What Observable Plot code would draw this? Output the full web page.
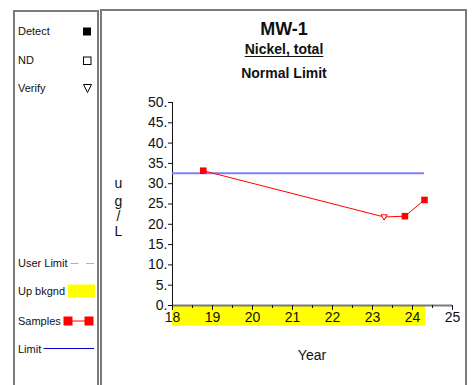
<!DOCTYPE html>
<html>
<head>
<meta charset="utf-8">
<script src="https://cdn.jsdelivr.net/npm/d3@7"></script>
<script src="https://cdn.jsdelivr.net/npm/@observablehq/plot@0.6"></script>
<style>
  html, body { margin: 0; padding: 0; background: #fff; }
  body { font-family: "Liberation Sans", Arial, Helvetica, sans-serif; color: #111; }
  #page { position: relative; width: 474px; height: 385px; overflow: hidden; background: #fff; }
  #page svg { position: absolute; left: 0; top: 0; background: transparent; }
  .panel { position: absolute; box-sizing: border-box; border: 2px solid #7a7a7a; }
  .t { position: absolute; white-space: nowrap; line-height: 1; }
  .center { transform: translate(-50%, -50%); }
  .lbl { font-size: 11px; transform: translateY(-50%); }
  .sym { position: absolute; }
</style>
</head>
<body>
<div id="page"></div>
<script>
// Sampling record for MW-1, nickel (total), in ug/L
const sampleYears  = [18.77, 23.29, 23.81, 24.30];
const sampleValues = [33.2, 21.8, 22.0, 26.0];
const sampleFlags  = ["Detect", "Verify", "Detect", "Detect"];

// Normal limit and the period covered by the upgradient background
const limitValue = 32.6;
const limitYears = [18, 24.3];
const bkgndYears = [18, 24.33];

// Axis ticks
const yTicks = [0, 5, 10, 15, 20, 25, 30, 35, 40, 45, 50];
const xTicks = [18, 19, 20, 21, 22, 23, 24, 25];
const xMinorTicks = [18.5, 19.5, 20.5, 21.5, 22.5, 23.5, 24.5];

const samples = sampleYears.map((year, i) => ({year, value: sampleValues[i], flag: sampleFlags[i]}));

// open downward triangle used for "Verify" results
const triangleDown = {
  draw(context, size) {
    const a = Math.sqrt(size / Math.PI) * 0.85;
    context.moveTo(-a, -a * 0.7);
    context.lineTo(a, -a * 0.7);
    context.lineTo(0, a * 1.0);
    context.closePath();
  }
};

const chart = Plot.plot({
  width: 474,
  height: 385,
  marginLeft: 172,
  marginRight: 22,
  marginTop: 102,
  marginBottom: 80,
  style: {fontFamily: "'Liberation Sans', Arial, sans-serif", fontSize: "14px", color: "#111", background: "transparent"},
  x: {domain: [18, 25]},
  y: {domain: [0, 50]},
  marks: [
    // upgradient background band under the time axis
    Plot.ruleY([0], {x1: bkgndYears[0], x2: bkgndYears[1], stroke: "#ffff00", strokeWidth: 20, dy: 10}),
    Plot.ruleY([0], {stroke: "#7a7a7a", strokeWidth: 2}),
    Plot.axisX({ticks: xMinorTicks, tickSize: 3, tickFormat: () => "", label: null, stroke: "#111"}),
    Plot.axisX({ticks: xTicks, tickSize: 5, tickPadding: 2, tickFormat: d => String(d), label: null, stroke: "#111", fill: "#111"}),
    Plot.ruleX([18], {stroke: "#111"}),
    Plot.axisY({ticks: yTicks, tickSize: 4, tickPadding: 1, tickFormat: d => d + ".", label: null, stroke: "#111", fill: "#111"}),
    // normal limit
    Plot.ruleY([limitValue], {x1: limitYears[0], x2: limitYears[1], stroke: "#8080ff", strokeWidth: 2}),
    // sample series
    Plot.line(samples, {x: "year", y: "value", stroke: "#ff0000", strokeWidth: 1}),
    Plot.dot(samples.filter(d => d.flag === "Detect"), {x: "year", y: "value", symbol: "square", r: 3.7, fill: "#ff0000", stroke: "none"}),
    Plot.dot(samples.filter(d => d.flag === "Verify"), {x: "year", y: "value", symbol: triangleDown, r: 3.7, fill: "#fff", stroke: "#ff0000", strokeWidth: 1})
  ]
});

const page = document.getElementById("page");
page.appendChild(chart);

function addText(text, x, y, css, cls) {
  const el = document.createElement("div");
  el.className = "t " + (cls || "");
  el.textContent = text;
  el.style.left = x + "px";
  el.style.top = y + "px";
  Object.assign(el.style, css || {});
  page.appendChild(el);
  return el;
}

// panels
const left = document.createElement("div");
left.className = "panel";
Object.assign(left.style, {left: "13px", top: "10px", width: "86px", height: "400px"});
page.appendChild(left);
const right = document.createElement("div");
right.className = "panel";
Object.assign(right.style, {left: "100px", top: "9px", width: "367px", height: "400px"});
page.appendChild(right);

// titles
addText("MW-1", 284, 29, {fontSize: "18px", fontWeight: "bold"}, "center");
addText("Nickel, total", 284, 49, {fontSize: "14px", fontWeight: "bold", textDecoration: "underline", textUnderlineOffset: "2px"}, "center");
addText("Normal Limit", 284, 73, {fontSize: "14px", fontWeight: "bold"}, "center");

// axis titles
["u", "g", "/", "L"].forEach((c, i) => addText(c, 118.5, [183, 201, 216, 231][i], {fontSize: "14px"}, "center"));
addText("Year", 312, 355, {fontSize: "14px"}, "center");

// legend
function svgSym(x, y, w, h, inner) {
  const ns = "http://www.w3.org/2000/svg";
  const s = document.createElementNS(ns, "svg");
  s.setAttribute("width", w); s.setAttribute("height", h);
  s.setAttribute("class", "sym");
  s.style.left = x + "px"; s.style.top = y + "px";
  s.innerHTML = inner;
  page.appendChild(s);
}
const legendLabels = ["Detect", "ND", "Verify", "User Limit", "Up bkgnd", "Samples", "Limit"];
const legendY = [31, 60, 88, 263, 291, 321, 349];
legendLabels.forEach((t, i) => addText(t, 18, legendY[i], {}, "lbl"));
svgSym(82, 27, 10, 10, '<rect x="1" y="0.5" width="8" height="8" fill="#000"/>');
svgSym(82, 56, 10, 10, '<rect x="1.5" y="1" width="7.5" height="7.5" fill="#fff" stroke="#000"/>');
svgSym(82, 83, 12, 11, '<path d="M1.5,1.5 L9.5,1.5 L5.5,9.5 Z" fill="#fff" stroke="#000"/>');
svgSym(68, 258, 30, 10, '<line x1="2.5" y1="5.5" x2="10.5" y2="5.5" stroke="#00ffff"/><line x1="18" y1="5.5" x2="26" y2="5.5" stroke="#00ffff"/>');
svgSym(67, 283, 30, 16, '<rect x="1" y="1.5" width="27" height="13" fill="#ffff00"/>');
svgSym(62, 315, 36, 12, '<line x1="5" y1="6" x2="28" y2="6" stroke="#ff0000"/><rect x="1.5" y="1.5" width="9" height="9" fill="#ff0000"/><rect x="22.5" y="1.5" width="9" height="9" fill="#ff0000"/>');
svgSym(42, 344, 56, 10, '<line x1="1.5" y1="4.5" x2="52" y2="4.5" stroke="#0000cc"/>');
</script>
</body>
</html>
